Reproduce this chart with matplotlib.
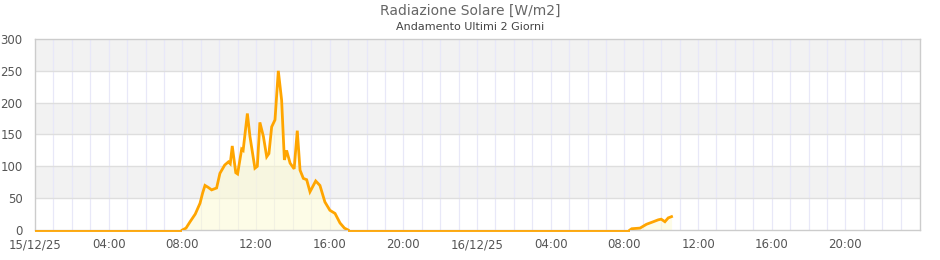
import matplotlib
matplotlib.use("Agg")
import matplotlib.pyplot as plt
import numpy as np

# Hours since 15/12/25 00:00
day1_hours = [8.0, 8.2, 8.42, 8.7, 8.96, 9.1, 9.23, 9.4, 9.59, 9.86, 10.04, 10.3, 10.5, 10.6, 10.71,
              10.9, 11.0, 11.22, 11.3, 11.53, 11.67, 11.94, 12.07, 12.21, 12.4, 12.58, 12.7, 12.85,
              13.03, 13.21, 13.39, 13.54, 13.66, 13.85, 14.07, 14.24, 14.39, 14.57, 14.75, 14.93,
              15.24, 15.47, 15.74, 16.01, 16.29, 16.56, 16.8, 17.0]
day1_values = [0, 3, 13, 25, 42, 58, 70, 67, 63, 66, 89, 102, 107, 104, 132,
               90, 88, 127, 125, 183, 147, 97, 100, 169, 147, 115, 120, 162,
               173, 250, 204, 110, 125, 105, 96, 156, 94, 81, 79, 60,
               77, 70, 44, 31, 26, 11, 3, 0]

day2_hours = [32.3, 32.4, 32.85, 33.2, 33.57, 33.84, 34.0, 34.2, 34.38, 34.56]
day2_values = [0, 2, 3, 9, 13, 16, 17, 13, 19, 21]

zero_periods = [(0.0, 8.0), (17.0, 32.3)]

tick_hours = list(range(0, 48, 4))
tick_labels = ["15/12/25", "04:00", "08:00", "12:00", "16:00", "20:00",
               "16/12/25", "04:00", "08:00", "12:00", "16:00", "20:00"]

fig = plt.figure(figsize=(9.4, 2.6), dpi=100)
ax = fig.add_axes([35/940, 30/260, 885/940, 191/260])

ax.set_xlim(0, 48.05)
ax.set_ylim(0, 300)

# alternating bands
for lo in range(0, 300, 100):
    ax.axhspan(lo + 50, lo + 100, color="#f2f2f2", zorder=0, lw=0)
for h in range(1, 48):
    ax.axvline(h, color="#e8e8f8", lw=0.9, zorder=0.5)
for v in range(50, 300, 50):
    ax.axhline(v, color="#dedede", lw=1, zorder=0.6)

line_color = "#FFA500"
for a, b in zero_periods:
    ax.plot([a, b], [-1.8, -1.8], color=line_color, lw=1.3, zorder=5, clip_on=False,
            solid_capstyle="butt")

for hs, vs in [(day1_hours, day1_values), (day2_hours, day2_values)]:
    ax.fill_between(hs, 0, vs, color="#fdfbd0", alpha=0.5, lw=0, zorder=1)
    ax.plot(hs, vs, color=line_color, lw=2.0, zorder=4, solid_joinstyle="miter")

ax.set_xticks(tick_hours)
ax.set_xticklabels(tick_labels)
ax.set_yticks(range(0, 301, 50))
ax.tick_params(axis="both", length=0, labelsize=8.5, colors="#555555")
ax.tick_params(axis="y", pad=9)
ax.tick_params(axis="x", pad=6)
for s in ax.spines.values():
    s.set_color("#cccccc")
    s.set_linewidth(1)

fig.text(470/940, 1 - 11/260, "Radiazione Solare [W/m2]", ha="center", va="center",
         fontsize=10, color="#666666")
fig.text(470/940, 1 - 27/260, "Andamento Ultimi 2 Giorni", ha="center", va="center",
         fontsize=8, color="#444444")

fig.savefig("out.png", dpi=100)
